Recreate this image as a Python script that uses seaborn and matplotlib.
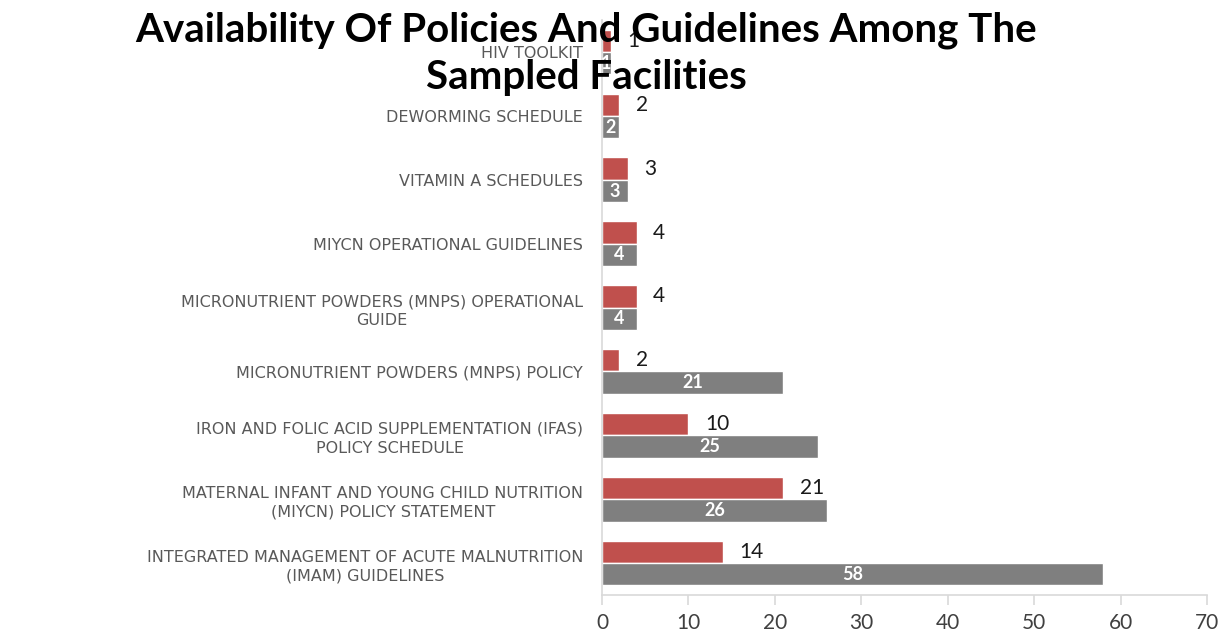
import matplotlib
matplotlib.use("Agg")
import matplotlib.pyplot as plt
import seaborn as sns
import pandas as pd

# Policy / guideline documents, top to bottom
categories = [
    "HIV TOOLKIT",
    "DEWORMING SCHEDULE",
    "VITAMIN A SCHEDULES",
    "MIYCN OPERATIONAL GUIDELINES",
    "MICRONUTRIENT POWDERS (MNPS) OPERATIONAL\nGUIDE",
    "MICRONUTRIENT POWDERS (MNPS) POLICY",
    "IRON AND FOLIC ACID SUPPLEMENTATION (IFAS)\nPOLICY SCHEDULE",
    "MATERNAL INFANT AND YOUNG CHILD NUTRITION\n(MIYCN) POLICY STATEMENT",
    "INTEGRATED MANAGEMENT OF ACUTE MALNUTRITION\n(IMAM) GUIDELINES",
]
series_names = ["Series 2", "Series 1"]
red_values = [1, 2, 3, 4, 4, 2, 10, 21, 14]
gray_values = [1, 2, 3, 4, 4, 21, 25, 26, 58]
x_ticks = [0, 10, 20, 30, 40, 50, 60, 70]

df = pd.DataFrame({
    "category": categories * 2,
    "series": [series_names[0]] * len(categories) + [series_names[1]] * len(categories),
    "count": red_values + gray_values,
})

sns.set_style("white")
plt.rcParams["font.family"] = ["Lato", "DejaVu Sans"]

fig = plt.figure(figsize=(12.24, 6.3), dpi=100)
ax = fig.add_axes([0.4918, 0.0556, 0.4943, 0.9124])

sns.barplot(
    data=df, x="count", y="category", hue="series",
    order=categories, hue_order=series_names,
    palette=["#C0504D", "#7F7F7F"], orient="h", width=0.7,
    saturation=1, legend=False, ax=ax,
)

ax.set_xlim(0, 70)
ax.set_xticks(x_ticks)
ax.set_xlabel("")
ax.set_ylabel("")

for s in ["top", "right"]:
    ax.spines[s].set_visible(False)
for s in ["left", "bottom"]:
    ax.spines[s].set_color("#D9D9D9")
    ax.spines[s].set_linewidth(1.2)

ax.tick_params(axis="x", which="both", bottom=True, length=7, width=1.2,
               color="#D9D9D9", labelsize=15, labelcolor="#404040", pad=6)
ax.tick_params(axis="y", left=False, pad=10)
for lbl in ax.get_yticklabels():
    lbl.set_fontfamily(["DejaVu Sans"])
    lbl.set_fontsize(11.5)
    lbl.set_color("#595959")
    lbl.set_multialignment("center")
    lbl.set_linespacing(1.35)

red_bars, gray_bars = ax.containers[0], ax.containers[1]
ax.bar_label(red_bars, labels=[str(v) for v in red_values], padding=12,
             fontsize=15, color="#1a1a1a")
ax.bar_label(gray_bars, labels=[str(v) for v in gray_values], label_type="center",
             fontsize=13, color="white", fontweight="bold")

fig.suptitle("Availability Of Policies And Guidelines Among The\nSampled Facilities",
             x=0.479, y=0.982, fontsize=29, fontweight="bold", color="#000000",
             linespacing=1.35, va="top")

fig.savefig("out.png", dpi=100)
